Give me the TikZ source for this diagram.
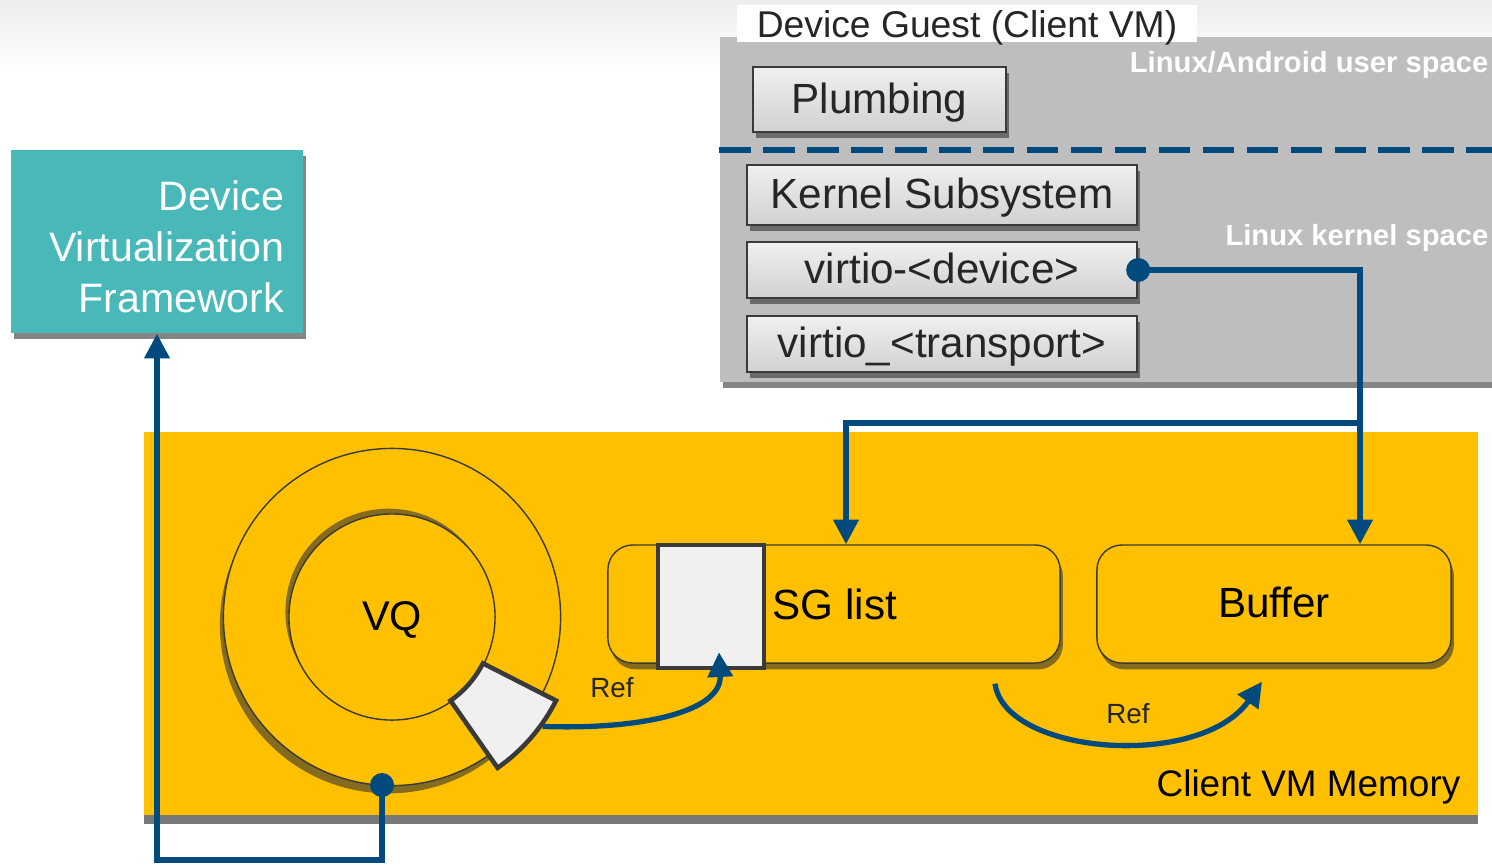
\documentclass[tikz,border=0pt]{standalone}
\usepackage{fontspec}
\setmainfont{Liberation Sans}
\usetikzlibrary{arrows.meta,calc,shadows}
\definecolor{vqblue}{HTML}{004A7D}
\definecolor{memyellow}{HTML}{FFC000}
\definecolor{panelgrey}{HTML}{BEBEBE}
\definecolor{dvfteal}{HTML}{48B8B8}
\definecolor{edgegrey}{HTML}{3A3A3A}
\definecolor{txtgrey}{HTML}{262626}

\begin{document}
\begin{tikzpicture}[
    x=0.01cm, y=-0.01cm,
    font=\fontsize{12}{14}\selectfont,
    softshadow/.style={drop shadow={shadow xshift=0.8pt, shadow yshift=-1.8pt, opacity=0.6, fill=black!80}},
    layerbox/.style={rectangle, draw=edgegrey, line width=0.6pt, top color=white!94!black, bottom color=white!82!black, text=txtgrey, inner sep=0pt, text height=0.78em, text depth=0pt, softshadow},
    membox/.style={rectangle, draw=edgegrey, line width=0.4pt, fill=memyellow, rounded corners=0.25cm, minimum width=4.52cm, minimum height=1.18cm, text height=0.76em, text depth=0pt, softshadow},
    slotbox/.style={draw=edgegrey, line width=1.3pt, fill=white!94!black},
    spacelabel/.style={anchor=east, text=white, font=\fontsize{8.3}{10}\selectfont\bfseries, inner sep=0pt},
    reflabel/.style={text=txtgrey, font=\fontsize{7.9}{9}\selectfont, inner sep=0pt},
    conn/.style={draw=vqblue, line width=1.5pt},
    arrow/.style={conn, -{Triangle[width=7pt, length=7pt]}},
]
    \useasboundingbox (0,0) rectangle (1492,866);
    \fill[top color=black!7, bottom color=white] (0,0) rectangle (1492,70);

    % Guest VM panel
    \node[rectangle, fill=panelgrey, minimum width=7.72cm, minimum height=3.45cm, softshadow] (guest) at (1106,209.5) {};
    \node[fill=white, text=txtgrey, font=\fontsize{10.6}{12}\selectfont, minimum width=4.6cm, minimum height=0.37cm, inner sep=0pt, text height=0.78em, text depth=0pt] (title) at (967,23.5) {Device Guest (Client VM)};
    \node[spacelabel] (userspace) at (1489,65) {Linux/Android user space};
    \node[spacelabel] (kernelspace) at (1489,238) {Linux kernel space};
    \draw[vqblue, line width=1.7pt, dash pattern=on 9pt off 3.5pt] (guest.west |- 0,150) -- (guest.east |- 0,150);

    % Layers inside the guest
    \node[layerbox, minimum width=2.53cm, minimum height=0.65cm] (plumbing) at (879.5,99.5) {Plumbing};
    \node[layerbox, minimum width=3.9cm, minimum height=0.6cm] (kernel) at (942,195) {Kernel Subsystem};
    \node[layerbox, minimum width=3.9cm, minimum height=0.56cm] (vdev) at (942,270) {virtio-<device>};
    \node[layerbox, minimum width=3.9cm, minimum height=0.56cm] (vtrans) at (942,344) {virtio\_<transport>};

    % Framework box
    \node[rectangle, fill=dvfteal, text=white, text width=2.54cm, inner xsep=0.19cm, align=right, minimum height=1.83cm, font=\fontsize{11.7}{14.5}\selectfont, softshadow] (dvf) at (157,241.5) {\rule{0pt}{0.4cm}Device\\ Virtualization\\ Framework};

    % Client memory
    \node[rectangle, fill=memyellow, minimum width=13.34cm, minimum height=3.83cm, drop shadow={shadow xshift=0pt, shadow yshift=-2.5pt, opacity=0.7, fill=black!75}] (mem) at (811,623.5) {};
    \node[anchor=east, font=\fontsize{10.5}{12}\selectfont, inner sep=0pt] (memlabel) at (1461,787) {Client VM Memory};

    % Virtqueue ring
    \node[circle, draw=edgegrey, line width=0.4pt, fill=memyellow, minimum size=3.37cm, drop shadow={shadow xshift=-1pt, shadow yshift=-2.2pt, opacity=0.6, fill=black!80}] (vqouter) at (392,617) {};
    \node[circle, draw=edgegrey, line width=0.4pt, fill=memyellow, minimum size=2.06cm, drop shadow={shadow xshift=-1pt, shadow yshift=1.5pt, opacity=0.6, fill=black!80}, font=\fontsize{11.8}{14}\selectfont, text height=0.76em, text depth=0pt] (vqinner) at (392,617) {VQ};
    \begin{scope}[shift={(392,617)}, x=1cm, y=1cm]
        \draw[slotbox] (-27:1.02) arc[start angle=-27, end angle=-55, radius=1.02] -- (-55:1.84) arc[start angle=-55, end angle=-27, radius=1.84] -- cycle;
        \coordinate (slotout) at (-36:1.86);
    \end{scope}
    \coordinate (vqdot) at (382,785);

    % Descriptors and buffer
    \node[membox] (sg) at (834,604) {};
    \node[slotbox, rectangle, minimum width=1.06cm, minimum height=1.23cm, inner sep=0pt] (sgslot) at (711,606.5) {};
    \node[anchor=west, inner sep=0pt, text height=0.76em, text depth=0pt] (sglabel) at (772,606) {SG list};
    \node[membox, minimum width=3.54cm] (buffer) at (1274,604) {Buffer};

    % Connections
    \coordinate (split) at (1360,423);
    \draw[arrow] (vdev.east) -| ($(buffer.north)+(86,0)$);
    \draw[arrow] (split) -| ($(sg.north)+(12,0)$);
    \fill[vqblue] (vdev.east) circle (0.12cm);
    \draw[arrow] (vqdot) -- ++(0,75) -| (dvf.south);
    \fill[vqblue] (vqdot) circle (0.12cm);

    % References
    \draw[arrow] (slotout) .. controls (640,730) and (722,712) .. ($(sgslot.south)+(8,-18)$);
    \node[reflabel] (ref1) at (612,688) {Ref};
    \draw[arrow] ($(sg.south)+(161,20)$) .. controls (1005,755) and (1200,770) .. ($(buffer.south)+(-12,18)$);
    \node[reflabel] (ref2) at (1128,714) {Ref};

\end{tikzpicture}
\end{document}
